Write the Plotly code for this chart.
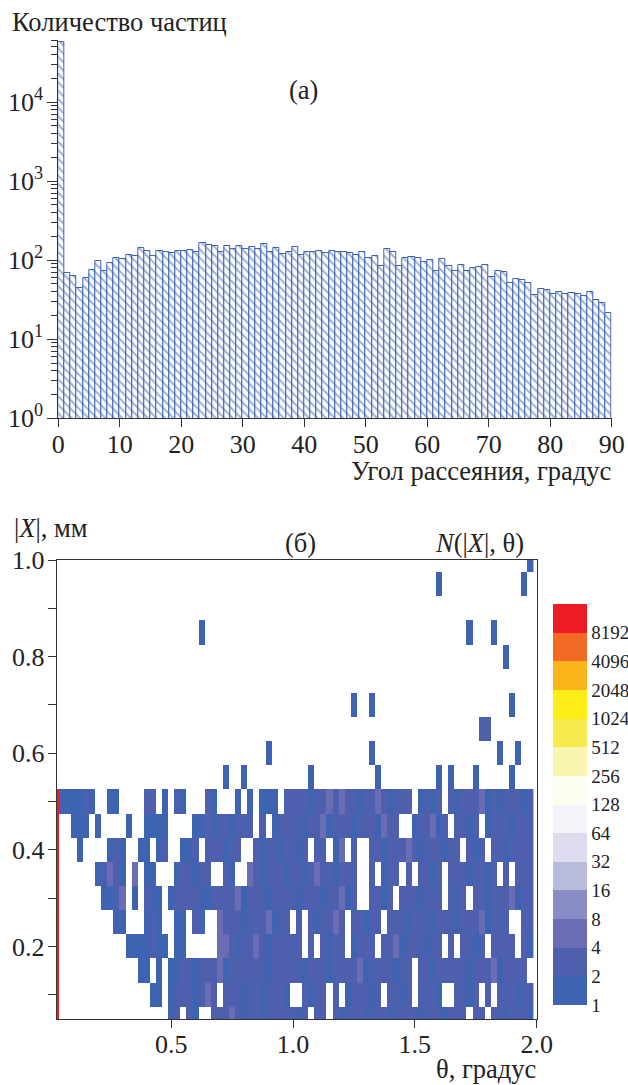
import numpy as np
import plotly.graph_objects as go

W, H = 628, 1085
FONT = "Liberation Serif"
BLUE = "#3d62b3"

# ---------------- (a) histogram data ----------------
angle_edges_left = list(range(0, 90))          # 1-degree bins, left edges
particle_counts = [56900, 68, 63, 45, 59, 75, 98, 73, 93, 108,
                   104, 118, 114, 142, 132, 114, 132, 127, 124, 130,
                   132, 133, 128, 164, 155, 152, 128, 150, 140, 150,
                   140, 146, 138, 158, 128, 142, 120, 128, 145, 116,
                   128, 128, 132, 125, 132, 128, 128, 125, 117, 128,
                   106, 113, 85, 138, 128, 85, 106, 109, 106, 95,
                   101, 74, 103, 84, 74, 86, 73, 79, 83, 88,
                   62, 74, 70, 51, 58, 56, 52, 36, 43, 42,
                   37, 40, 37, 38, 37, 35, 40, 31, 28.6, 21.7]
hist_xticks = [0, 10, 20, 30, 40, 50, 60, 70, 80, 90]
hist_yticks = [1, 10, 100, 1000, 10000]
hist_yticklabels = ["10<sup>0</sup>", "10<sup>1</sup>", "10<sup>2</sup>",
                    "10<sup>3</sup>", "10<sup>4</sup>"]

# ---------------- (б) 2D histogram data ----------------
theta_centers = [round(0.025 * k, 4) for k in range(1, 80)]   # 0.025 .. 1.975
absx_centers = [round(0.05 * k, 3) for k in range(1, 21)]      # 0.05 .. 1.00
# codes: '.' empty, '1' -> 1, '2' -> 2..3, '4' -> 4..7, 'R' -> >=8192
row_005 = "R" + ".................." + "12" + "." + "21" + ".." + "2224212212222" + "212" + "." + "22" + "." + "2122212221222212221222" + "." + "22" + "." + "2212221"
row_010 = "R" + "..............." + "11" + "." + "12221242" + "." + "22212212221" + ".." + "2122" + "." + "2" + "." + "122212" + "." + "2212" + "." + "2221" + ".." + "2212" + "." + "2" + "." + "222122"
row_015 = "R" + "............." + "11" + "." + "1" + "." + "11221222412222221222" + "22122212222412222122" + "." + "221222221222412222" + "."
row_020 = "R" + "..........." + "1111211" + "." + "11" + "....." + "442122421222" + "22" + "." + "2" + "." + "2122" + "." + "1222" + "." + "2241222122" + "." + "2" + "." + "2212" + "." + "2222" + "." + "21"
row_025 = "R" + "........." + "11" + "..." + "121" + ".." + "11" + "." + "21" + ".." + "422212224122" + "." + "2" + "." + "212242" + "." + "22122" + "." + "22212221222122241222" + ".." + "22"
row_030 = "R" + "......." + "1124" + "." + "1" + "." + "211" + "." + "12222112" + "222412221222" + "21222122412" + ".." + "2212" + "." + "2221222" + "." + "212" + "." + "2212224122"
row_035 = "R" + "......" + "12421" + "." + "4" + "." + "11" + "..." + "122122" + ".." + "21" + ".." + "4212221" + "22124221222" + ".." + "2" + "." + "122" + "." + "2" + "." + "2212" + "." + "22212212" + "." + "2" + "." + "222"
row_040 = "R" + "..." + "1" + "...." + "121" + ".." + "11" + "." + "12" + ".." + "112" + "." + "222122" + ".." + "212212" + "212" + "." + "22" + "." + "14" + "." + "2" + ".." + "221222421222122" + "." + "212" + "." + "2212222"
row_045 = "R" + ".." + "111" + "." + "1" + "...." + "1" + ".." + "1" + "111" + "...." + "11" + "21221222" + "." + "2" + "." + "122" + "221224122212221422" + ".." + "122412" + "." + "2212" + "." + "12221222"
row_050 = "R" + "111121" + ".." + "11" + "...." + "22" + "." + "1" + "." + "21" + "..." + "21" + "..." + "1" + "." + "1" + "." + "111" + "." + "2" + "222122" + "424" + "22122" + "4" + "21222" + "." + "1212" + "." + "21222412122212"
dense_rows = [row_005, row_010, row_015, row_020, row_025,
              row_030, row_035, row_040, row_045, row_050]
code_counts = {".": 0, "1": 1, "2": 2, "4": 5, "8": 10, "R": 9000}

sparse_theta = [0.625, 0.9, 0.725, 0.8, 1.075, 1.6, 1.95, 1.975, 1.725, 1.825,
                1.875, 1.25, 1.325, 1.9, 1.775, 1.8, 1.325, 1.85, 1.925, 1.35,
                1.6, 1.65, 1.75, 1.9]
sparse_absx = [0.85, 0.6, 0.55, 0.55, 0.55, 0.95, 0.95, 1.0, 0.85, 0.85,
               0.8, 0.7, 0.7, 0.7, 0.65, 0.65, 0.6, 0.6, 0.6, 0.55,
               0.55, 0.55, 0.55, 0.55]
sparse_count = [1, 1, 1, 1, 1, 1, 1, 1, 1, 1,
                1, 1, 1, 1, 2, 2, 1, 1, 1, 1,
                1, 1, 1, 1]

cbar_values = list(range(14))
cbar_labels = ["1", "2", "4", "8", "16", "32", "64", "128", "256", "512",
               "1024", "2048", "4096", "8192"]
band_colors = ["#3e63b0", "#4e5fae", "#6b6db4", "#8a8dc5", "#b9bbdd", "#dcdcee",
               "#f3f3f9", "#fdfdf0", "#faf5b1", "#f5eb4e", "#fcee16", "#fbb51b",
               "#f26a23", "#ed1c24"]

# ---------- build count grid ----------
counts = np.zeros((len(absx_centers), len(theta_centers)))
for r, s in enumerate(dense_rows):
    for c, ch in enumerate(s):
        counts[r, c] = code_counts[ch]
for t, a, n in zip(sparse_theta, sparse_absx, sparse_count):
    c = int(round(t / 0.025)) - 1
    r = int(round(a / 0.05)) - 1
    counts[r, c] = n
zband = np.where(counts > 0, np.floor(np.log2(np.maximum(counts, 1))) + 0.5, np.nan)

nb = len(band_colors)
colorscale = []
for i, col in enumerate(band_colors):
    colorscale.append([i / nb, col])
    colorscale.append([(i + 1) / nb, col])


def px(x):
    return x / W


def py(y):
    return 1 - y / H


fig = go.Figure()

fig.add_trace(go.Bar(
    x=[e + 0.5 for e in angle_edges_left], y=particle_counts, width=1,
    marker=dict(color="white", line=dict(color=BLUE, width=1),
                pattern=dict(shape="\\", fgcolor=BLUE, bgcolor="white",
                             size=6, solidity=0.35)),
    xaxis="x", yaxis="y", showlegend=False))

fig.add_trace(go.Heatmap(
    x=theta_centers, y=absx_centers, z=zband, zmin=0, zmax=nb,
    colorscale=colorscale, hoverongaps=False, xaxis="x2", yaxis="y2",
    colorbar=dict(x=px(552.7), xanchor="left", y=py(804.5), yanchor="middle",
                  len=401, lenmode="pixels", thickness=34, thicknessmode="pixels",
                  outlinewidth=0, ticks="", tickvals=cbar_values, ticktext=cbar_labels,
                  tickfont=dict(family=FONT, size=19, color="#222"),
                  xpad=0, ypad=0)))

axis_common = dict(showgrid=False, zeroline=False, showline=True, linecolor="#333",
                   linewidth=1, ticks="outside", tickcolor="#333",
                   tickfont=dict(family=FONT, size=26, color="#222"))

fig.update_layout(
    width=W, height=H, margin=dict(l=0, r=0, t=0, b=0, autoexpand=False),
    paper_bgcolor="white", plot_bgcolor="white", bargap=0,
    font=dict(family=FONT, color="#222"),
    xaxis=dict(domain=[px(58.3), px(611.7)], range=[0, 90], tickvals=hist_xticks,
               ticklen=8, ticklabelstandoff=-6, anchor="y", **axis_common),
    yaxis=dict(domain=[py(418.3), py(40)], type="log", range=[0, 4.785],
               tickvals=hist_yticks, ticktext=hist_yticklabels, ticklen=10,
               ticklabelstandoff=-1,
               minor=dict(tickvals=[m * 10 ** d for d in range(5) for m in range(2, 10)],
                          ticks="outside", ticklen=6, tickcolor="#333"),
               anchor="x", **axis_common),
    xaxis2=dict(domain=[px(56.7), px(536.7)], range=[0.03, 2.0],
                tickvals=[0.5, 1.0, 1.5, 2.0], ticktext=["0.5", "1.0", "1.5", "2.0"],
                ticklen=8, ticklabelstandoff=-6, mirror=True, anchor="y2", **axis_common),
    yaxis2=dict(domain=[py(1019), py(560)], range=[0.05, 1.0],
                tickvals=[0.2, 0.4, 0.6, 0.8, 1.0], ticktext=["0.2", "0.4", "0.6", "0.8", "1.0"],
                ticklen=8, ticklabelstandoff=-2, mirror=True,
                minor=dict(tickvals=[0.1, 0.3, 0.5, 0.7, 0.9], ticks="outside",
                           ticklen=8, tickcolor="#333"),
                anchor="x2", **axis_common),
)

ann = dict(xref="paper", yref="paper", showarrow=False,
           font=dict(family=FONT, size=26.5, color="#222"))
fig.add_annotation(text="Количество частиц", x=px(10), y=py(22), xanchor="left", yanchor="middle", **ann)
fig.add_annotation(text="(а)", x=px(303), y=py(90), xanchor="center", yanchor="middle", **ann)
fig.add_annotation(text="Угол рассеяния, градус", x=px(613), y=py(471), xanchor="right", yanchor="middle", **ann)
fig.add_annotation(text="|<i>X</i>|, мм", x=px(12), y=py(528), xanchor="left", yanchor="middle", **ann)
fig.add_annotation(text="(б)", x=px(300), y=py(543), xanchor="center", yanchor="middle", **ann)
fig.add_annotation(text="<i>N</i>(|<i>X</i>|, θ)", x=px(526), y=py(543), xanchor="right", yanchor="middle", **ann)
fig.add_annotation(text="θ, градус", x=px(538), y=py(1069), xanchor="right", yanchor="middle", **ann)

fig.write_html("out.html")
